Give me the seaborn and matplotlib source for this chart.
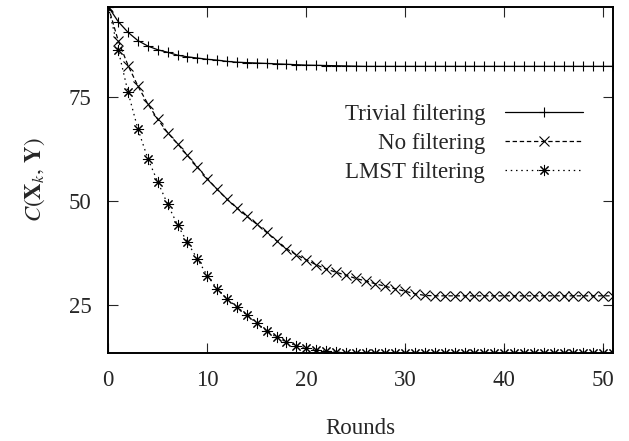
"""
plot.py

convergence of C(X_k, Y) over the rounds for three filtering strategies
"""

import matplotlib
matplotlib.use("Agg")
import matplotlib.pyplot as plt
import seaborn as sns

# data
rounds = list(range(52))

trivial = [96.9, 93.3, 90.7, 88.7, 87.4, 86.5, 85.9, 85.2, 84.8, 84.5,
           84.2, 84.0, 83.7, 83.5, 83.4, 83.3, 83.2, 83.1, 83.0, 82.9,
           82.8, 82.75, 82.7, 82.65, 82.6, 82.55] + [82.5] * 26

no_filter = [96.9, 88.7, 82.7, 77.7, 73.4, 69.7, 66.5, 63.8, 61.0, 58.2,
             55.4, 52.8, 50.4, 48.3, 46.3, 44.4, 42.4, 40.4, 38.5, 37.0,
             35.8, 34.6, 33.6, 32.8, 32.1, 31.3, 30.7, 30.0, 29.4, 28.8,
             28.2, 27.6, 27.2] + [27.1] * 19

lmst = [96.9, 86.5, 76.2, 67.3, 60.2, 54.6, 49.2, 44.2, 40.0, 36.0,
        32.0, 28.8, 26.4, 24.4, 22.5, 20.5, 18.6, 17.1, 15.9, 15.1,
        14.5, 14.1, 13.7, 13.5, 13.4] + [13.3] * 27

labels = ["Trivial filtering", "No filtering", "LMST filtering"]

sns.set_style("ticks")
plt.rcParams["font.family"] = ["Liberation Serif", "DejaVu Serif"]
plt.rcParams["mathtext.fontset"] = "stix"

fs = 16.5
fig, ax = plt.subplots(figsize=(6.29, 4.41), dpi=100)
fig.subplots_adjust(left=108.3 / 629, right=613 / 629,
                    top=1 - 6.7 / 441, bottom=1 - 353 / 441)

# seaborn defaults the marker edge to white, so set it explicitly
line_kw = dict(color="black", lw=0.9, mec="black")
sns.lineplot(x=rounds, y=trivial, ax=ax, label=labels[0],
             linestyle="-", marker="+", ms=6.5, mew=0.8, **line_kw)
sns.lineplot(x=rounds, y=no_filter, ax=ax, label=labels[1],
             linestyle=(0, (3.5, 2.2)), marker="x", ms=7, mew=0.8, **line_kw)
sns.lineplot(x=rounds, y=lmst, ax=ax, label=labels[2],
             linestyle=(0, (1.2, 3.0)), marker=(8, 2, 0), ms=8, mew=0.75,
             **line_kw)

ax.set_xlim(0, 51)
ax.set_ylim(min(lmst), max(trivial))
ax.set_xticks([0, 10, 20, 30, 40, 50])
ax.set_yticks([25, 50, 75])
ax.tick_params(direction="in", top=True, right=True, length=7, width=0.8,
               labelsize=fs, pad=12)
for s in ax.spines.values():
    s.set_linewidth(1.4)
    s.set_color("black")

ax.set_xlabel("Rounds", fontsize=fs, labelpad=20)
ax.set_ylabel(r"$C(\mathbf{X}_k,\,\mathbf{Y})$", fontsize=fs, labelpad=16)

ax.legend(loc="upper right", bbox_to_anchor=(0.9406, 0.719), frameon=False,
          markerfirst=False, fontsize=fs, handlelength=3.4,
          handletextpad=0.87, labelspacing=0.35, borderpad=0,
          borderaxespad=0, numpoints=1)

fig.savefig("out.png", dpi=100)
